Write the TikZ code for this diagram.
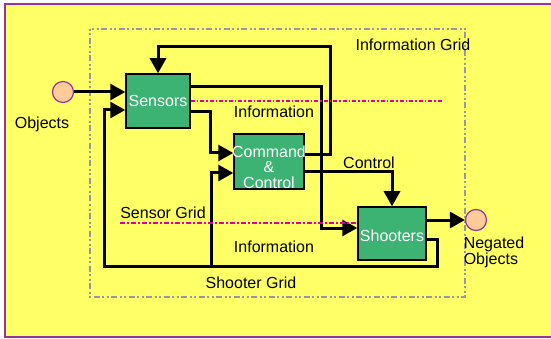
\documentclass[tikz,border=0pt]{standalone}
\usepackage{fontspec}
\setmainfont{Liberation Sans}
\usetikzlibrary{arrows.meta}
\definecolor{paper}{RGB}{255,255,102}
\definecolor{frameline}{RGB}{153,51,153}
\definecolor{boxgreen}{RGB}{60,178,115}
\definecolor{peach}{RGB}{255,204,153}
\definecolor{gridgray}{RGB}{150,150,170}
\definecolor{infopink}{RGB}{220,0,160}
\begin{document}
\begin{tikzpicture}[x=1pt, y=-1pt, >={Triangle[length=15pt,width=16pt]},
  unit/.style={draw, line width=1.5pt, fill=boxgreen, inner sep=0pt},
  unittext/.style={text=white, inner sep=0pt, align=center, font=\fontsize{16}{15.5}\selectfont},
  thing/.style={circle, draw=frameline, line width=1.2pt, fill=peach, minimum size=21pt, inner sep=0pt},
  tag/.style={font=\fontsize{16}{16}\selectfont, inner sep=0pt, align=left},
  flow/.style={->, line width=3pt},
  gridbox/.style={gridgray, line width=2.5pt, dash pattern=on 2pt off 2.5pt on 2pt off 2.5pt on 6pt off 2.5pt},
  infoline/.style={infopink, line width=1.3pt, dash pattern=on 4pt off 2pt on 1.5pt off 2pt},
  sensorline/.style={infopink, line width=2.8pt, dash pattern=on 5pt off 2pt on 2pt off 2pt}]
\useasboundingbox (0,0) rectangle (551,339);
\fill[white] (0,0) rectangle (551,339);
\draw[frameline, fill=paper, line width=2pt] (5,4) rectangle (560,337);
\draw[gridbox] (90,29) rectangle (465,297);
\node[unit, minimum width=64pt, minimum height=54pt] (sensors) at (158,101) {};
\node[unittext] (sensorstext) at (sensors.center) {Sensors};
\node[unit, minimum width=70pt, minimum height=55pt] (cc) at (269,161.5) {};
\node[unittext] (cctext) at (269,167) {Command\\\&\\Control};
\node[unit, minimum width=68pt, minimum height=53pt] (shooters) at (392,233.5) {};
\node[unittext] (shooterstext) at (392,236) {Shooters};
\node[thing] (obj) at (63,92) {};
\node[thing] (negobj) at (476,220) {};
\coordinate (topgrid) at (330,47);
\coordinate (fbright) at (437.5,266);
\coordinate (fbleft) at (104,266);
\coordinate (fbmid) at (211,266);
\coordinate (infoend) at (443,101);
\coordinate (sgrid) at (120,223);
\draw[flow] (obj) -- (obj -| sensors.west);
\draw[flow] ([yshift=6.5pt]cc.east) -| (topgrid) -| (sensors.north);
\draw[flow] ([yshift=14pt]sensors.east) -| ([xshift=-36pt,yshift=5.5pt]shooters.west) -- ([yshift=5.5pt]shooters.west);
\draw[flow] ([yshift=-11pt]sensors.east) -| ([xshift=-23pt,yshift=8.5pt]cc.west) -- ([yshift=8.5pt]cc.west);
\draw[flow] ([yshift=-10.5pt]cc.east) -| (shooters.north);
\draw[flow] (shooters.east |- negobj) -- (negobj);
\draw[flow] ([yshift=-5.5pt]shooters.east) -| (fbright) -- (fbleft) |- ([yshift=-9pt]sensors.west);
\draw[flow] (fbmid) |- ([yshift=-11.5pt]cc.west);
\draw[infoline] (sensors.east) -- (infoend);
\draw[sensorline] (sgrid) -- (sgrid -| shooters.west);
\node[tag] (infogrid) at (413,45) {Information Grid};
\node[tag] (infoup) at (274,112) {Information};
\node[tag] (control) at (369,163) {Control};
\node[tag] (sensorgrid) at (163,213) {Sensor Grid};
\node[tag] (infolow) at (274,247) {Information};
\node[tag] (shootergrid) at (251,283) {Shooter Grid};
\node[tag] (objlabel) at (42,124) {Objects};
\node[tag] (neglabel) at (494,252) {Negated\\Objects};
\end{tikzpicture}
\end{document}
